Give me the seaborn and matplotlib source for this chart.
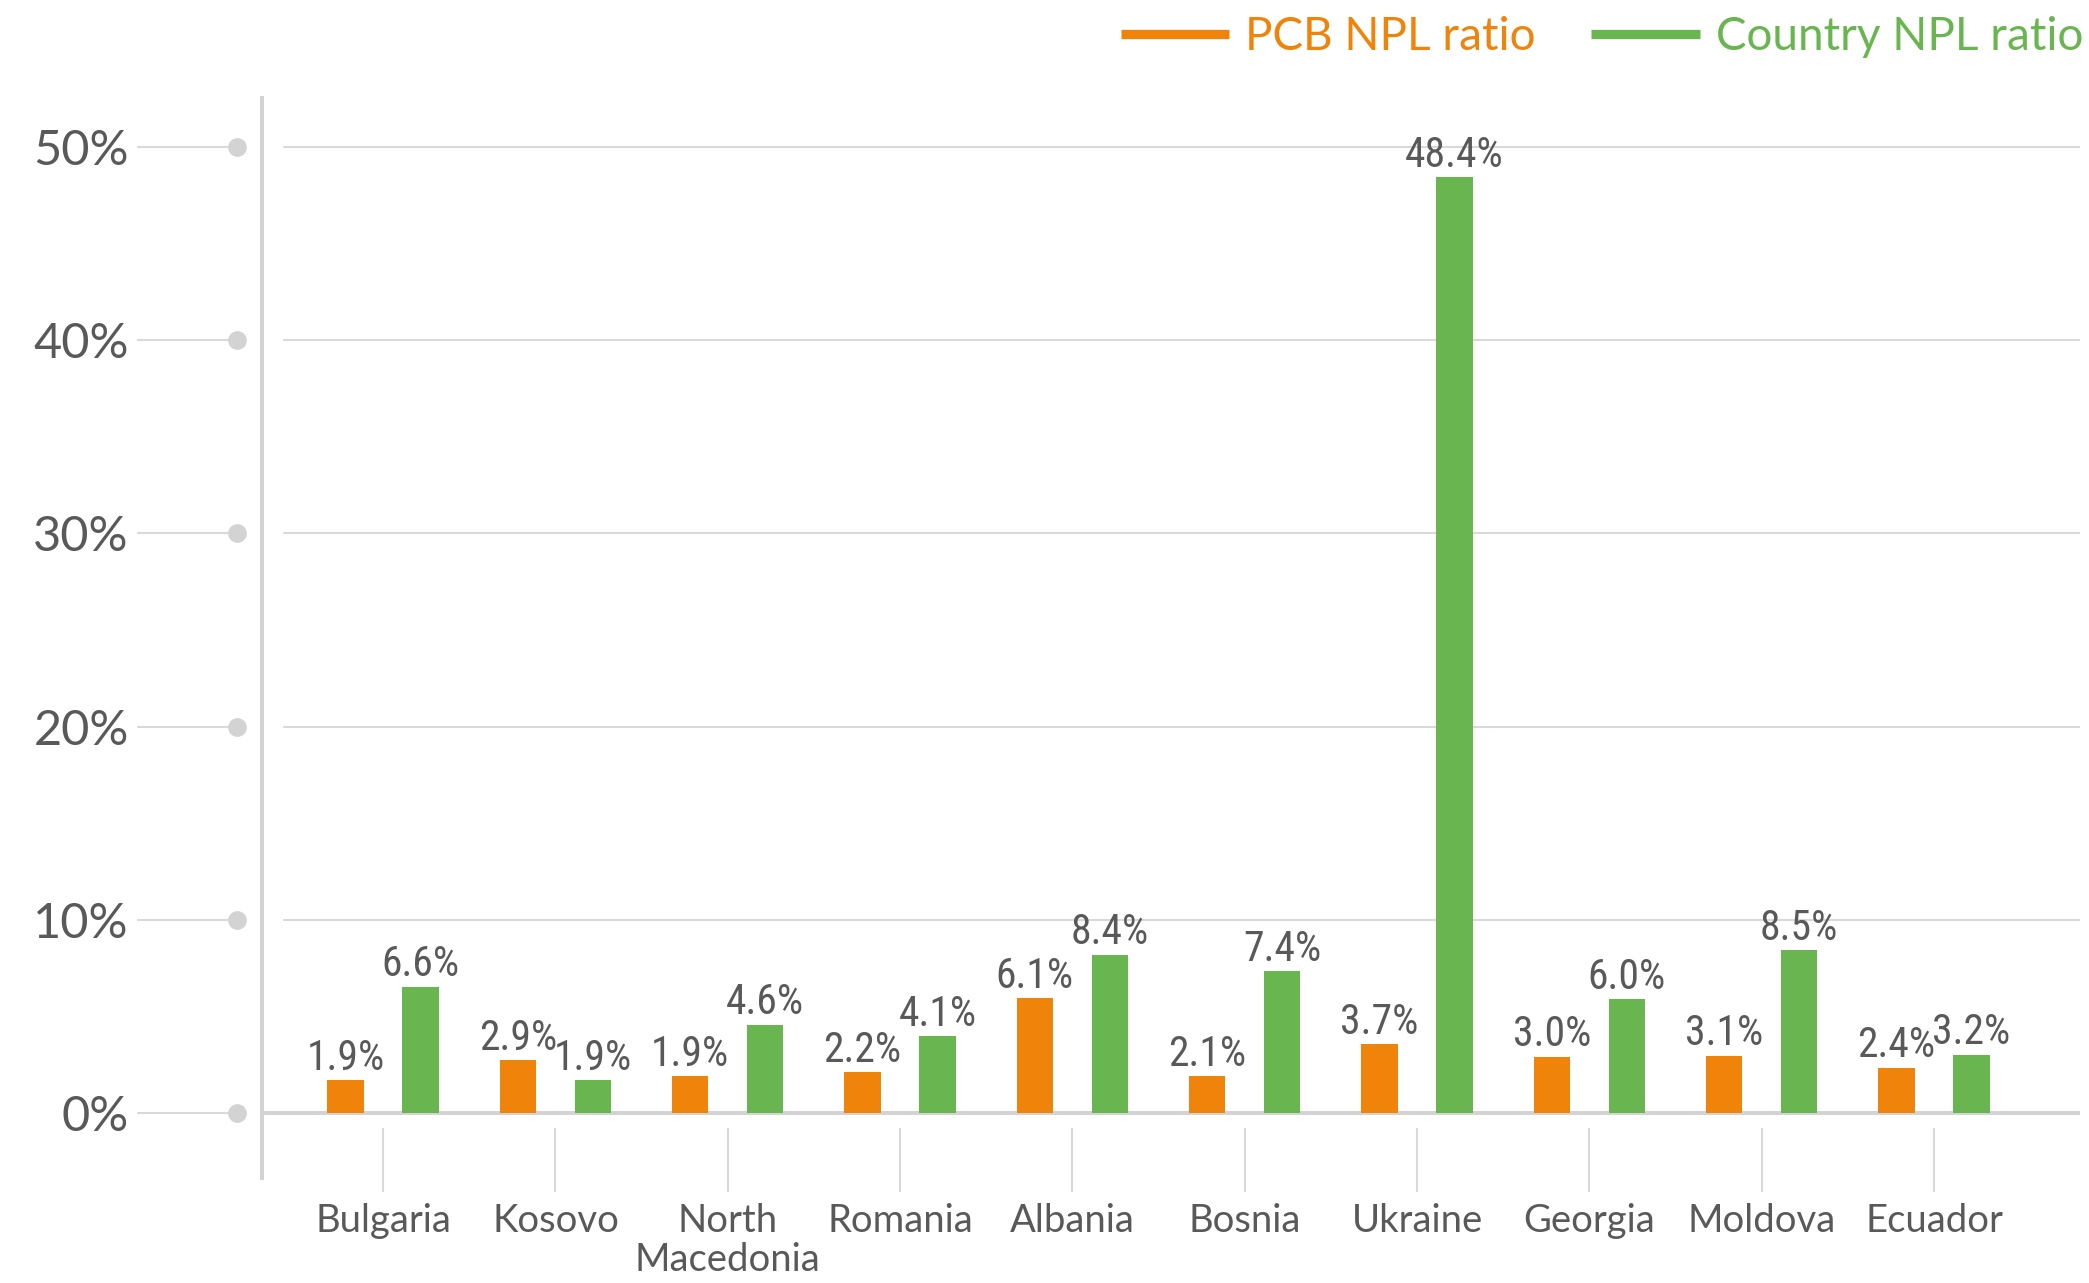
import numpy as np
import pandas as pd
import matplotlib
matplotlib.use("Agg")
import matplotlib.pyplot as plt
from matplotlib import font_manager as fm
from matplotlib.lines import Line2D
import matplotlib.transforms as mtransforms
import seaborn as sns

# ---------------- data ----------------
countries = ["Bulgaria", "Kosovo", "North\nMacedonia", "Romania", "Albania",
             "Bosnia", "Ukraine", "Georgia", "Moldova", "Ecuador"]
pcb_values = [1.7, 2.75, 1.92, 2.13, 5.95, 1.92, 3.56, 2.92, 2.97, 2.35]
country_values = [6.54, 1.7, 4.57, 3.99, 8.2, 7.33, 48.45, 5.9, 8.42, 3.03]
pcb_labels = ["1.9%", "2.9%", "1.9%", "2.2%", "6.1%", "2.1%", "3.7%", "3.0%", "3.1%", "2.4%"]
country_labels = ["6.6%", "1.9%", "4.6%", "4.1%", "8.4%", "7.4%", "48.4%", "6.0%", "8.5%", "3.2%"]
series_names = ["PCB NPL ratio", "Country NPL ratio"]
y_ticks = [0, 10, 20, 30, 40, 50]
y_tick_labels = ["0%", "10%", "20%", "30%", "40%", "50%"]

ORANGE = "#F0840A"
GREEN = "#69B550"
TEXT = "#595959"
GRID = "#d9d9d9"
AXIS = "#d3d3d3"


def pick(cands):
    for c in cands:
        try:
            fm.findfont(fm.FontProperties(family=c), fallback_to_default=False)
            return c
        except Exception:
            pass
    return "DejaVu Sans"


sns.set_theme(style="white")
main_font = pick(["Lato", "Open Sans", "DejaVu Sans"])
narrow_font = pick(["Liberation Sans Narrow", "Roboto Condensed", "Open Sans Condensed", "Lato"])
plt.rcParams["font.family"] = [main_font, "DejaVu Sans"]

df = pd.DataFrame({
    "country": countries * 2,
    "value": pcb_values + country_values,
    "series": [series_names[0]] * len(countries) + [series_names[1]] * len(countries),
})

W, H = 2089, 1283
fig = plt.figure(figsize=(W / 100, H / 100), dpi=100)
L, R, T, B = 262, 2080, 98, 1178
ax = fig.add_axes([L / W, 1 - B / H, (R - L) / W, (B - T) / H])

sns.barplot(data=df, x="country", y="value", hue="series", order=countries,
            hue_order=series_names, palette=[ORANGE, GREEN], saturation=1,
            width=0.8706, gap=0.516, linewidth=0, legend=False, ax=ax, zorder=3)

ax.set_xlim(-0.703, 9.847)
ax.set_ylim(-3.36, 52.54)

# gridlines (start a bit right of the axis)
for yv in y_ticks[1:]:
    ax.axhline(yv, xmin=0.0121, xmax=1, color=GRID, lw=1.5, zorder=1)
ax.axhline(0, xmin=0, xmax=1, color=AXIS, lw=2.9, zorder=2)

# spines
for s in ["top", "right", "bottom"]:
    ax.spines[s].set_visible(False)
ax.spines["left"].set_color(AXIS)
ax.spines["left"].set_linewidth(2.9)

# y ticks
ax.set_yticks(y_ticks)
ax.set_yticklabels(y_tick_labels)
ax.tick_params(axis="y", length=0, pad=96, labelsize=35, labelcolor=TEXT)
trans_y = mtransforms.blended_transform_factory(ax.transAxes, ax.transData)
for yv in y_ticks:
    ax.plot([-0.0682, -0.01375], [yv, yv], transform=trans_y, color=GRID,
            lw=1.5, clip_on=False, zorder=1)
    ax.plot([-0.01375], [yv], transform=trans_y, marker="o", ms=13.5,
            color=AXIS, mec="none", clip_on=False, zorder=2)

# x ticks
ax.set_xlabel("")
ax.set_ylabel("")
ax.tick_params(axis="x", length=0, pad=18, labelsize=27.5, labelcolor=TEXT)
for lab in ax.get_xticklabels():
    lab.set_linespacing(1.12)
ax.vlines(range(len(countries)), -0.78, -4.09, color=GRID, lw=1.5, clip_on=False)

# data labels
for cont, labs in zip(ax.containers, [pcb_labels, country_labels]):
    ax.bar_label(cont, labels=labs, padding=1, fontsize=30, color=TEXT,
                 family=[narrow_font, "DejaVu Sans"], fontstretch="condensed", zorder=4)

# legend
handles = [Line2D([0], [0], color=ORANGE, lw=6.7, solid_capstyle="butt"),
           Line2D([0], [0], color=GREEN, lw=6.7, solid_capstyle="butt")]
fig.legend(handles, series_names, loc="center right",
           bbox_to_anchor=(2083 / W, 1 - 37 / H), ncol=2, frameon=False,
           fontsize=33, labelcolor=[ORANGE, GREEN], handlelength=2.37,
           handletextpad=0.35, columnspacing=1.2, borderpad=0, borderaxespad=0)

fig.savefig("out.png", dpi=100, facecolor="white")
